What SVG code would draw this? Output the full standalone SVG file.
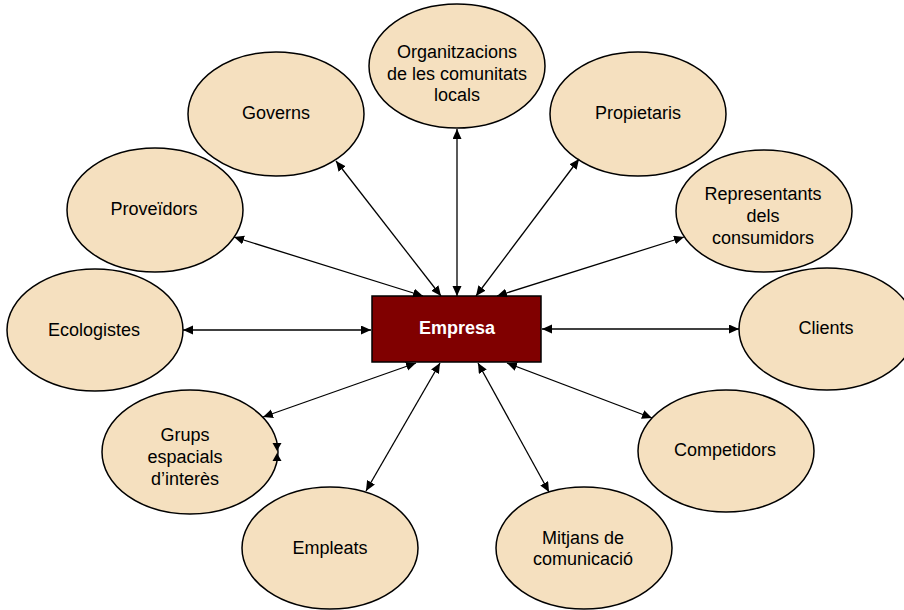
<svg xmlns="http://www.w3.org/2000/svg" width="904" height="610" viewBox="0 0 904 610">
<style>
.n ellipse{fill:#F5E0BF;stroke:#000;stroke-width:1.5}
.n text{font-family:"Liberation Sans",Arial,sans-serif;font-size:18px;fill:#000;text-anchor:middle}
.c line{stroke:#000;stroke-width:1.3;marker-start:url(#a);marker-end:url(#a)}
.hd{fill:#000}
</style>
<defs>
<marker id="a" markerUnits="userSpaceOnUse" markerWidth="11" markerHeight="10" refX="10" refY="4.5" orient="auto-start-reverse">
<path d="M0,0 L10,4.5 L0,9 z" fill="#000"/>
</marker>
</defs>
<rect width="904" height="610" fill="#fff"/>
<g class="n" id="n-organitzacions"><ellipse cx="457" cy="66" rx="88" ry="62"/><text x="457" y="58">Organitzacions</text><text x="457" y="80">de les comunitats</text><text x="457" y="101">locals</text></g>
<g class="n" id="n-governs"><ellipse cx="276" cy="114" rx="88" ry="62"/><text x="276" y="119">Governs</text></g>
<g class="n" id="n-propietaris"><ellipse cx="638" cy="114" rx="88" ry="62"/><text x="638" y="119">Propietaris</text></g>
<g class="n" id="n-proveidors"><ellipse cx="155" cy="210" rx="88" ry="62"/><text x="154" y="215">Proveïdors</text></g>
<g class="n" id="n-representants"><ellipse cx="764" cy="211" rx="88" ry="61"/><text x="763" y="200">Representants</text><text x="763" y="222">dels</text><text x="763" y="244">consumidors</text></g>
<g class="n" id="n-ecologistes"><ellipse cx="95" cy="330" rx="88" ry="61"/><text x="94" y="336">Ecologistes</text></g>
<g class="n" id="n-clients"><ellipse cx="827" cy="329" rx="88" ry="61"/><text x="826" y="334">Clients</text></g>
<g class="n" id="n-grups"><ellipse cx="190" cy="452" rx="88" ry="62"/><text x="185" y="441">Grups</text><text x="185" y="463">espacials</text><text x="185" y="485">d’interès</text></g>
<g class="n" id="n-competidors"><ellipse cx="726" cy="451" rx="88" ry="61"/><text x="725" y="456">Competidors</text></g>
<g class="n" id="n-empleats"><ellipse cx="330" cy="548" rx="88" ry="61"/><text x="330" y="554">Empleats</text></g>
<g class="n" id="n-mitjans"><ellipse cx="584" cy="548" rx="88" ry="61"/><text x="583" y="544">Mitjans de</text><text x="583" y="565">comunicació</text></g>
<g id="n-empresa"><rect x="372" y="296" width="169" height="66" fill="#800000" stroke="#000" stroke-width="1.5"/><text x="457" y="334" font-family="'Liberation Sans',Arial,sans-serif" font-size="18" font-weight="bold" fill="#fff" text-anchor="middle">Empresa</text></g>
<g class="c" id="connectors">
<line x1="441" y1="296" x2="336" y2="161"/>
<line x1="457" y1="296" x2="457" y2="129"/>
<line x1="476" y1="296" x2="579" y2="159"/>
<line x1="423" y1="296" x2="234" y2="237"/>
<line x1="497" y1="296" x2="684" y2="237"/>
<line x1="371" y1="330" x2="183" y2="330"/>
<line x1="542" y1="329" x2="739" y2="329"/>
<line x1="416" y1="363" x2="263" y2="417"/>
<line x1="440" y1="363" x2="366" y2="491"/>
<line x1="478" y1="363" x2="549" y2="492"/>
<line x1="507" y1="363" x2="652" y2="418"/>
<polygon class="hd" points="272.5,443 281.5,443 277,451"/>
<polygon class="hd" points="272.5,461 281.5,461 277,453"/>
</g>
</svg>
